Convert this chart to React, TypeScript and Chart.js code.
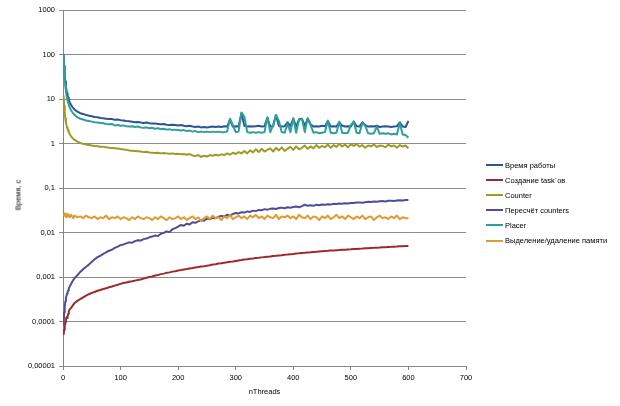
import React, { useEffect, useRef } from 'react';
import { Chart, registerables } from 'chart.js';

Chart.register(...registerables);

// nThreads sample points
const threads = [
  1, 2, 3, 4, 5, 6, 7, 8, 9, 10,
  12, 14, 16, 18, 20, 25, 30, 35, 40, 45,
  50, 55, 60, 65, 70, 75, 80, 85, 90, 95,
  100, 105, 110, 115, 120, 125, 130, 135, 140, 145,
  150, 155, 160, 165, 170, 175, 180, 185, 190, 195,
  200, 205, 210, 215, 220, 225, 230, 235, 240, 245,
  250, 255, 260, 265, 270, 275, 280, 285, 290, 295,
  300, 305, 310, 315, 320, 325, 330, 335, 340, 345,
  350, 355, 360, 365, 370, 375, 380, 385, 390, 395,
  400, 405, 410, 415, 420, 425, 430, 435, 440, 445,
  450, 455, 460, 465, 470, 475, 480, 485, 490, 495,
  500, 505, 510, 515, 520, 525, 530, 535, 540, 545,
  550, 555, 560, 565, 570, 575, 580, 585, 590, 595,
  600,
];

const vremyaRaboty = [
  100, 55, 35, 25, 19, 16, 13.5, 12, 10.8, 9.8,
  8.3, 7.4, 6.7, 6.2, 5.8, 5.2, 4.8, 4.6, 4.4, 4.2,
  4.1, 3.95, 3.9, 3.75, 3.7, 3.6, 3.55, 3.55, 3.4, 3.45,
  3.35, 3.3, 3.2, 3.15, 3.1, 3.0, 3.05, 2.95, 2.9, 2.95,
  2.85, 2.8, 2.8, 2.75, 2.7, 2.75, 2.65, 2.6, 2.65, 2.6,
  2.55, 2.6, 2.5, 2.45, 2.5, 2.4, 2.35, 2.4, 2.3, 2.35,
  2.3, 2.35, 2.4, 2.35, 2.4, 2.35, 2.45, 2.4, 3.4, 2.4,
  2.45, 2.4, 4.8, 2.5, 2.4, 2.45, 2.4, 2.45, 2.5, 2.4,
  2.45, 3.8, 2.4, 2.45, 4.3, 2.5, 2.4, 2.45, 3.0, 2.45,
  3.6, 2.4, 3.5, 3.6, 2.5, 3.6, 2.7, 2.4, 2.45, 2.4,
  2.5, 2.45, 3.2, 2.4, 2.45, 2.4, 3.0, 2.5, 2.4, 2.45,
  2.4, 3.1, 2.45, 2.4, 3.0, 2.6, 2.4, 2.45, 2.4, 2.5,
  2.35, 2.4, 2.45, 2.4, 2.35, 2.4, 2.45, 3.0, 2.4, 2.35,
  3.2,
];

const sozdanieTaskov = [
  0.00005, 0.000065, 0.00008, 0.000095, 0.00011, 0.000125, 0.00012, 0.00013, 0.00015, 0.00017,
  0.00019, 0.0002, 0.00022, 0.00024, 0.00026, 0.00029, 0.00032, 0.00035, 0.00038, 0.00041,
  0.00044, 0.00046, 0.00049, 0.00051, 0.00054, 0.00056, 0.00059, 0.00061, 0.00064, 0.00067,
  0.0007, 0.00073, 0.00075, 0.00078, 0.0008, 0.00083, 0.00086, 0.00088, 0.00092, 0.00096,
  0.001, 0.00103, 0.00108, 0.00111, 0.00116, 0.00119, 0.00124, 0.00127, 0.00132, 0.00135,
  0.0014, 0.00143, 0.00148, 0.00151, 0.00156, 0.00159, 0.00164, 0.00167, 0.00172, 0.00175,
  0.0018, 0.00184, 0.0019, 0.00194, 0.002, 0.00204, 0.0021, 0.00214, 0.0022, 0.00224,
  0.0023, 0.00236, 0.0024, 0.00246, 0.0025, 0.00256, 0.0026, 0.00266, 0.0027, 0.00276,
  0.0028, 0.00286, 0.0029, 0.00296, 0.003, 0.00306, 0.0031, 0.00316, 0.0032, 0.00326,
  0.0033, 0.00336, 0.0034, 0.00346, 0.0035, 0.00356, 0.0036, 0.00366, 0.0037, 0.00376,
  0.0038, 0.00385, 0.00388, 0.00393, 0.00396, 0.00401, 0.00404, 0.00409, 0.00412, 0.00417,
  0.0042, 0.00425, 0.00428, 0.00433, 0.00436, 0.00441, 0.00444, 0.00449, 0.00452, 0.00457,
  0.0046, 0.00465, 0.00468, 0.00473, 0.00476, 0.00481, 0.00484, 0.00489, 0.00492, 0.00497,
  0.005,
];

const counter = [
  12, 7, 4.8, 3.7, 3.0, 2.6, 2.3, 2.1, 1.95, 1.8,
  1.6, 1.45, 1.35, 1.27, 1.2, 1.1, 1.03, 0.98, 0.95, 0.93,
  0.9, 0.88, 0.87, 0.85, 0.84, 0.82, 0.8, 0.79, 0.78, 0.77,
  0.75, 0.73, 0.72, 0.7, 0.69, 0.68, 0.67, 0.66, 0.64, 0.65,
  0.63, 0.62, 0.61, 0.62, 0.6, 0.61, 0.6, 0.59, 0.6, 0.58,
  0.59, 0.57, 0.58, 0.56, 0.58, 0.54, 0.52, 0.55, 0.5, 0.53,
  0.51, 0.55, 0.53, 0.56, 0.54, 0.57, 0.55, 0.6, 0.56, 0.62,
  0.58, 0.64, 0.6, 0.68, 0.6, 0.7, 0.63, 0.74, 0.64, 0.76,
  0.66, 0.72, 0.78, 0.66, 0.8, 0.7, 0.82, 0.68, 0.76, 0.84,
  0.72, 0.86, 0.74, 0.8, 0.9, 0.76, 0.86, 0.78, 0.92, 0.8,
  0.88, 0.82, 0.95, 0.8, 0.92, 0.84, 0.98, 0.86, 0.94, 0.82,
  0.96, 0.88, 0.98, 0.85, 0.92, 0.8, 0.9, 0.86, 0.95, 0.83,
  0.9, 0.88, 0.82, 0.94, 0.86, 0.9, 0.8, 0.92, 0.85, 0.9,
  0.78,
];

const pereschetCounters = [
  0.00008, 0.00016, 0.00022, 0.00028, 0.00033, 0.00038, 0.00042, 0.00046, 0.0005, 0.00055,
  0.00063, 0.0007, 0.00078, 0.00086, 0.00094, 0.0011, 0.0013, 0.0015, 0.0017, 0.0019,
  0.0022, 0.0025, 0.0028, 0.003, 0.0033, 0.0036, 0.0039, 0.0041, 0.0045, 0.0048,
  0.0052, 0.0054, 0.0057, 0.006, 0.0059, 0.0064, 0.0067, 0.0066, 0.0071, 0.0073,
  0.0078, 0.0081, 0.0086, 0.0083, 0.0094, 0.0098, 0.0106, 0.0102, 0.0118, 0.0125,
  0.0135, 0.0148, 0.0142, 0.0158, 0.0152, 0.017, 0.0165, 0.0178, 0.019, 0.0184,
  0.0205, 0.0198, 0.0215, 0.021, 0.0225, 0.0235, 0.0228, 0.025, 0.0242, 0.026,
  0.0275, 0.0268, 0.0285, 0.028, 0.0298, 0.029, 0.031, 0.0302, 0.0322, 0.0315,
  0.0335, 0.0326, 0.034, 0.0348, 0.0338, 0.0355, 0.0362, 0.035, 0.0368, 0.036,
  0.0375, 0.0385, 0.037, 0.0392, 0.042, 0.0398, 0.0408, 0.04, 0.0418, 0.041,
  0.0425, 0.0418, 0.0432, 0.0428, 0.044, 0.0435, 0.0448, 0.0442, 0.0455, 0.045,
  0.0462, 0.0458, 0.047, 0.0475, 0.0468, 0.048, 0.0488, 0.0482, 0.0495, 0.049,
  0.0502, 0.0508, 0.05, 0.0515, 0.052, 0.0512, 0.0525, 0.053, 0.0522, 0.0535,
  0.0538,
];

const placer = [
  100, 48, 29, 20, 15.5, 12.5, 10.5, 9.2, 8.2, 7.4,
  6.3, 5.6, 5.1, 4.7, 4.4, 3.9, 3.6, 3.45, 3.3, 3.2,
  3.1, 3.0, 2.95, 2.9, 2.85, 2.75, 2.7, 2.75, 2.55, 2.6,
  2.5, 2.55, 2.45, 2.4, 2.45, 2.35, 2.4, 2.3, 2.25, 2.3,
  2.2, 2.25, 2.15, 2.2, 2.1, 2.15, 2.05, 2.1, 2.0, 2.05,
  2.0, 1.95, 2.0, 1.9, 1.95, 1.85, 1.9, 1.8, 1.85, 1.8,
  1.85, 1.8, 1.85, 1.8, 1.85, 1.8, 1.8, 1.85, 3.6, 2.6,
  1.8, 1.85, 5.0, 4.0, 1.8, 1.75, 1.8, 1.75, 1.8, 1.75,
  1.8, 3.9, 1.8, 2.6, 4.4, 3.2, 1.8, 1.75, 2.8, 1.8,
  3.7, 1.75, 3.4, 3.6, 1.8, 3.7, 2.6, 1.75, 1.8, 1.7,
  1.75, 1.8, 3.3, 1.75, 1.7, 1.75, 3.1, 1.75, 1.7, 1.75,
  2.6, 3.1, 1.75, 1.7, 2.9, 2.5, 1.7, 1.65, 1.7, 2.4,
  1.65, 1.7, 1.65, 1.7, 1.6, 1.65, 1.6, 2.9, 1.6, 1.55,
  1.35,
];

const vydeleniePamyati = [
  0.026, 0.024, 0.027, 0.023, 0.025, 0.022, 0.026, 0.024, 0.023, 0.025,
  0.022, 0.025, 0.023, 0.021, 0.024, 0.022, 0.023, 0.021, 0.024, 0.022,
  0.021, 0.023, 0.02, 0.022, 0.021, 0.024, 0.02, 0.022, 0.021, 0.023,
  0.02, 0.022, 0.021, 0.019, 0.022, 0.02, 0.023, 0.021, 0.02, 0.022,
  0.021, 0.019, 0.022, 0.02, 0.023, 0.021, 0.019, 0.022, 0.02, 0.021,
  0.023, 0.02, 0.022, 0.019, 0.021, 0.023, 0.02, 0.022, 0.018, 0.021,
  0.023, 0.02, 0.024, 0.021, 0.022, 0.019, 0.023, 0.021, 0.025, 0.02,
  0.022, 0.024, 0.021, 0.023, 0.02, 0.024, 0.022, 0.025, 0.021, 0.023,
  0.02, 0.024, 0.022, 0.021, 0.025, 0.02, 0.023, 0.022, 0.024, 0.021,
  0.023, 0.02, 0.025, 0.022, 0.021, 0.024, 0.02, 0.023, 0.022, 0.019,
  0.023, 0.021, 0.024, 0.02, 0.022, 0.025, 0.021, 0.023, 0.02, 0.024,
  0.022, 0.02, 0.023, 0.021, 0.024, 0.02, 0.022, 0.023, 0.019, 0.022,
  0.024, 0.021, 0.022, 0.02, 0.023, 0.021, 0.024, 0.02, 0.022, 0.021,
  0.021,
];

const seriesNames = [
  'Время работы',
  'Создание task`ов',
  'Counter',
  'Пересчёт counters',
  'Placer',
  'Выделение/удаление памяти',
];
const seriesColors = ['#2B5592', '#9A2B2A', '#9C9C24', '#4F4D9A', '#2E9E9E', '#DE9C2E'];
const seriesValues = [vremyaRaboty, sozdanieTaskov, counter, pereschetCounters, placer, vydeleniePamyati];

const yTickValues = [0.00001, 0.0001, 0.001, 0.01, 0.1, 1, 10, 100, 1000];
const yTickLabels = ['0,00001', '0,0001', '0,001', '0,01', '0,1', '1', '10', '100', '1000'];
const xTitle = 'nThreads';
const yTitle = 'Время, с';

const FONT = '"Liberation Sans", Arial, sans-serif';

export default function App() {
  const canvasRef = useRef<HTMLCanvasElement | null>(null);

  useEffect(() => {
    document.body.style.margin = '0';
    const canvas = canvasRef.current;
    if (!canvas) return;
    const tickFont = { family: FONT, size: 7.5 };
    const chart = new Chart(canvas, {
      type: 'line',
      data: {
        datasets: seriesValues.map((vals, i) => ({
          label: seriesNames[i],
          data: vals.map((v, j) => ({ x: threads[j], y: v })),
          borderColor: seriesColors[i],
          backgroundColor: seriesColors[i],
          borderWidth: 2,
          pointRadius: 0,
          tension: 0,
          fill: false,
          borderJoinStyle: 'round' as const,
          order: seriesValues.length - i,
        })),
      },
      options: {
        animation: false,
        responsive: false,
        devicePixelRatio: 1,
        parsing: false as any,
        normalized: true,
        layout: { padding: { top: 10, right: 154, left: 0, bottom: 0 } },
        plugins: { legend: { display: false }, tooltip: { enabled: false } },
        scales: {
          x: {
            type: 'linear',
            min: 0,
            max: 700,
            ticks: { stepSize: 100, font: tickFont, color: '#000', padding: 3, maxRotation: 0 },
            grid: { drawOnChartArea: false, tickLength: 4, color: '#868686' },
            border: { color: '#868686' },
            title: {
              display: true,
              text: xTitle,
              font: tickFont,
              color: '#000',
              padding: { top: 0, bottom: 10 },
            },
            afterFit: (s: any) => {
              s.height = 40;
            },
          },
          y: {
            type: 'logarithmic',
            min: 0.00001,
            max: 1000,
            afterBuildTicks: (s: any) => {
              s.ticks = yTickValues.map((v) => ({ value: v }));
            },
            ticks: {
              autoSkip: false,
              font: tickFont,
              color: '#000',
              padding: 4,
              callback: (v: any) => {
                const idx = yTickValues.findIndex((t) => Math.abs(t - Number(v)) / t < 1e-6);
                return idx >= 0 ? yTickLabels[idx] : '';
              },
            },
            grid: { color: '#8c8c8c', tickLength: 4 },
            border: { color: '#868686' },
            afterFit: (s: any) => {
              s.width = 63;
            },
          },
        },
      },
    });
    return () => chart.destroy();
  }, []);

  const legendTop = 165;
  const legendStep = 15.1;

  return (
    <div style={{ position: 'relative', width: 620, height: 406, background: '#fff' }}>
      <canvas ref={canvasRef} width={620} height={406} style={{ display: 'block' }} />
      <div
        style={{
          position: 'absolute',
          left: 18,
          top: 195,
          transform: 'translate(-50%, -50%) rotate(-90deg)',
          font: `7.5px ${FONT}`,
          color: '#000',
          whiteSpace: 'nowrap',
        }}
      >
        {yTitle}
      </div>
      {seriesNames.map((name, i) => (
        <div
          key={name}
          style={{
            position: 'absolute',
            left: 486,
            top: legendTop + i * legendStep - 5,
            height: 10,
            display: 'flex',
            alignItems: 'center',
            whiteSpace: 'nowrap',
          }}
        >
          <div style={{ width: 17, height: 2, background: seriesColors[i], marginRight: 2 }} />
          <span style={{ font: `7.5px ${FONT}`, color: '#000' }}>{name}</span>
        </div>
      ))}
    </div>
  );
}
